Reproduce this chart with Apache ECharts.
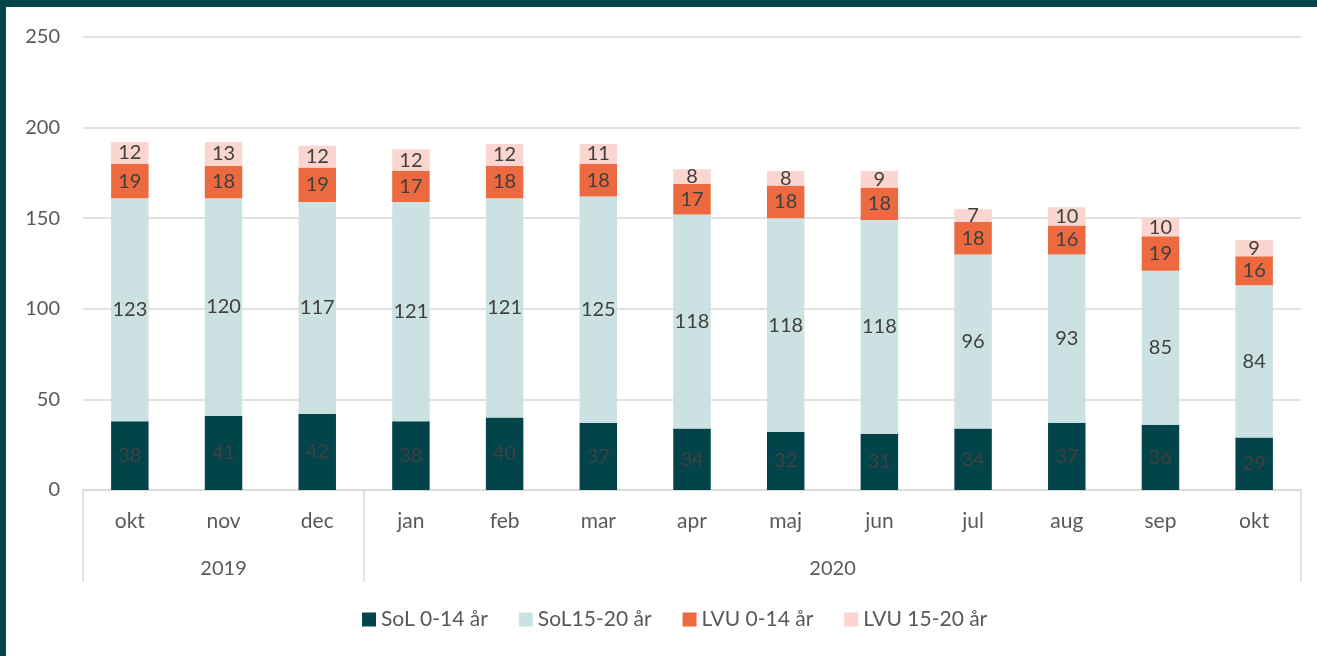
<!DOCTYPE html>
<html>
<head>
    <meta charset="utf-8">
    <title>SoL / LVU</title>
    <script src="https://cdn.jsdelivr.net/npm/echarts@6/dist/echarts.min.js"></script>
    <style type="text/css">
        html, body {
            margin: 0;
            padding: 0;
            background: #fff;
        }

        #main {
            width: 1317px;
            height: 656px;
        }

        .frame {
            position: absolute;
            left: 0;
            top: 0;
            width: 1317px;
            height: 656px;
            box-sizing: border-box;
            border-top: 7px solid #02464A;
            border-left: 6px solid #02464A;
            pointer-events: none;
        }
    </style>
</head>
<body>
    <div id="main"></div>
    <div class="frame"></div>
    <script>
        var months = ['okt', 'nov', 'dec', 'jan', 'feb', 'mar', 'apr', 'maj', 'jun', 'jul', 'aug', 'sep', 'okt'];
        var years = ['2019', '2020'];
        var yearCenters = [1, 7.5];        // mitt under respektive år
        var yearBounds = [-0.5, 2.5, 12.5]; // skiljelinjer

        var sol014 = [38, 41, 42, 38, 40, 37, 34, 32, 31, 34, 37, 36, 29];
        var sol1520 = [123, 120, 117, 121, 121, 125, 118, 118, 118, 96, 93, 85, 84];
        var lvu014 = [19, 18, 19, 17, 18, 18, 17, 18, 18, 18, 16, 19, 16];
        var lvu1520 = [12, 13, 12, 12, 12, 11, 8, 8, 9, 7, 10, 10, 9];

        var fontName = 'Lato';
        var textColor = '#595959';

        function barSeries(name, data, color) {
            return {
                name: name,
                type: 'bar',
                stack: 'total',
                barWidth: '40%',
                data: data,
                itemStyle: { color: color },
                label: {
                    show: true,
                    position: 'inside',
                    color: '#404040',
                    fontFamily: fontName,
                    fontSize: 20
                }
            };
        }

        var chart = echarts.init(document.getElementById('main'));
        var option = {
            backgroundColor: '#fff',
            animation: false,
            grid: {
                left: 83,
                right: 16,
                top: 37,
                bottom: 166
            },
            legend: {
                bottom: 21,
                left: 357,
                itemWidth: 14,
                itemHeight: 14,
                itemGap: 31,
                icon: 'rect',
                textStyle: {
                    color: textColor,
                    fontFamily: fontName,
                    fontSize: 21
                },
                data: ['SoL 0-14 år', 'SoL15-20 år', 'LVU 0-14 år', 'LVU 15-20 år']
            },
            xAxis: [
                {
                    type: 'category',
                    data: months,
                    axisLine: { lineStyle: { color: '#d9d9d9', width: 1.5 } },
                    axisTick: { show: false },
                    axisLabel: {
                        color: textColor,
                        fontFamily: fontName,
                        fontSize: 21,
                        margin: 21
                    }
                },
                {
                    type: 'value',
                    position: 'bottom',
                    min: -0.5,
                    max: 12.5,
                    axisLine: { show: false },
                    splitLine: { show: false },
                    axisTick: {
                        show: true,
                        customValues: yearBounds,
                        length: 92,
                        lineStyle: { color: '#d9d9d9', width: 1.5 }
                    },
                    axisLabel: {
                        customValues: yearCenters,
                        formatter: function (v) {
                            return years[yearCenters.indexOf(v)];
                        },
                        color: textColor,
                        fontFamily: fontName,
                        fontSize: 20,
                        margin: 69
                    }
                }
            ],
            yAxis: {
                type: 'value',
                min: 0,
                max: 250,
                interval: 50,
                axisLine: { show: false },
                axisTick: { show: false },
                splitLine: { lineStyle: { color: '#d9d9d9', width: 1.5 } },
                axisLabel: {
                    color: textColor,
                    fontFamily: fontName,
                    fontSize: 20,
                    margin: 23
                }
            },
            series: [
                barSeries('SoL 0-14 år', sol014, '#02444A'),
                barSeries('SoL15-20 år', sol1520, '#CCE1E1'),
                barSeries('LVU 0-14 år', lvu014, '#ED6A40'),
                barSeries('LVU 15-20 år', lvu1520, '#FBD5CF')
            ]
        };
        chart.setOption(option);
    </script>
</body>
</html>
